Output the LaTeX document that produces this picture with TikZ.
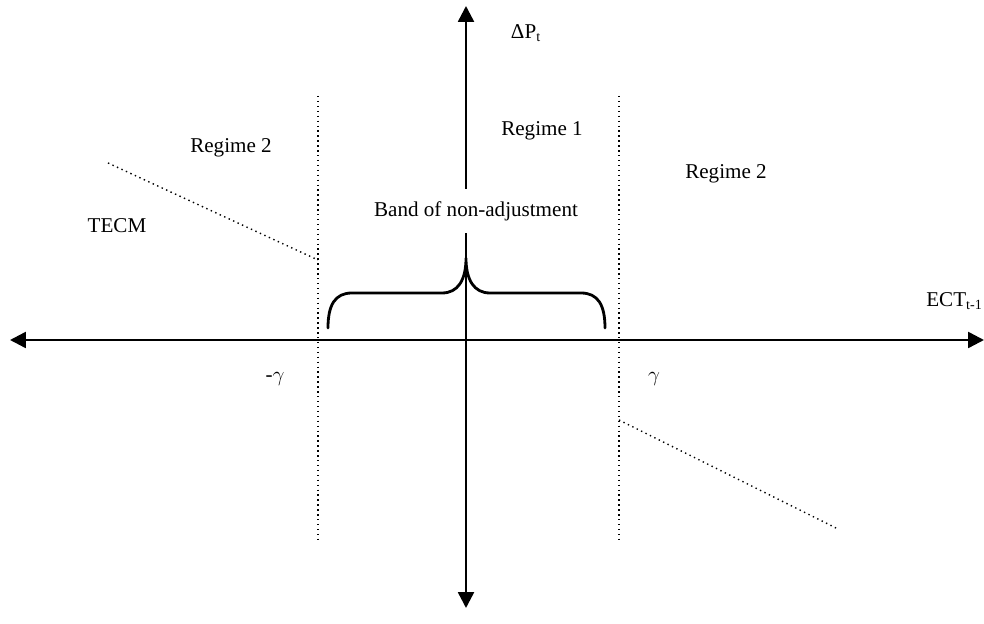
\documentclass[tikz,border=0pt]{standalone}
\usepackage{fontspec}
\setmainfont{Liberation Serif}
\usetikzlibrary{arrows.meta}

\begin{document}
\begin{tikzpicture}[
  x=0.02cm, y=-0.02cm,
  axis/.style={line width=1.4pt, {Triangle[length=9pt,width=9pt]}-{Triangle[length=9pt,width=9pt]}},
  bound/.style={dotted, line width=0.8pt},
  ecm/.style={dotted, line width=0.8pt},
  lbl/.style={font=\fontsize{12}{14}\selectfont, inner sep=0pt},
  brc/.style={line width=1.6pt, line cap=round}
]
\useasboundingbox (0,0) rectangle (984,624);

% axes
\coordinate (west) at (10,340);
\coordinate (east) at (984,340);
\coordinate (north) at (466,6);
\coordinate (south) at (466,608);
\draw[axis] (west) -- (east);
\draw[axis] (south) -- (north);

% thresholds
\coordinate (lgtop) at (318,96);
\coordinate (lgbot) at (318,543);
\coordinate (rgtop) at (619,96);
\coordinate (rgbot) at (619,543);
\draw[bound] (lgtop) -- (lgbot);
\draw[bound] (rgtop) -- (rgbot);

% outer regime adjustment
\coordinate (la) at (108,163);
\coordinate (lb) at (318,260);
\coordinate (ra) at (619,420);
\coordinate (rb) at (836,528);
\draw[ecm] (la) -- (lb);
\draw[ecm] (ra) -- (rb);

% brace
\coordinate (bl) at (328,328);
\coordinate (bm) at (466,258);
\coordinate (br) at (605,328);
\draw[brc] (bl) .. controls (328,305) and (335,293) .. (352,293)
  -- (442,293) .. controls (458,293) and (466,280) .. (bm)
  .. controls (466,280) and (474,293) .. (490,293)
  -- (581,293) .. controls (598,293) and (605,305) .. (br);

% labels
\node[lbl] (dp) at (526,33) {ΔP\textsubscript{t}};
\node[lbl] (r1) at (542,131) {Regime 1};
\node[lbl] (r2l) at (231,148) {Regime 2};
\node[lbl] (r2r) at (726,174) {Regime 2};
\node[lbl] (tecm) at (117,226) {TECM};
\node[lbl, fill=white, minimum height=0.88cm, inner xsep=2pt] (band) at (476,211) {Band of non-adjustment};
\node[lbl, anchor=west] (ect) at (926,301) {ECT\textsubscript{t-1}};
\node[lbl] (mg) at (275,379) {-$\gamma$};
\node[lbl] (pg) at (654,379) {$\gamma$};
\end{tikzpicture}
\end{document}
